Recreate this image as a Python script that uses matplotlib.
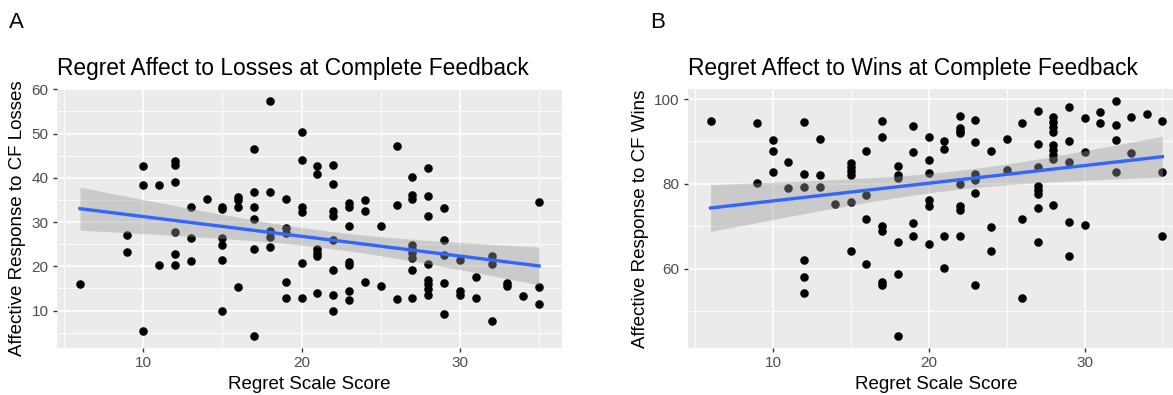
import matplotlib
matplotlib.use("Agg")
from matplotlib import pyplot as plt
import numpy as np

plt.rcParams['font.family'] = ['Liberation Sans', 'DejaVu Sans']

# panel A: regret score -> affective response to CF losses
loss_x = ([6] + [9]*2 + [10]*3 + [11]*2 + [12]*6 + [13]*3 + [14] + [15]*6 + [16]*4
          + [17]*6 + [18]*5 + [19]*5 + [20]*6 + [21]*6 + [22]*8 + [23]*7 + [24]*3
          + [25]*2 + [26]*3 + [27]*9 + [28]*8 + [29]*5 + [30]*3 + [31]*2 + [32]*3
          + [33]*2 + [34] + [35]*3)
loss_y = [15.9,
          27.1, 23.2,
          42.6, 38.4, 5.3,
          38.4, 20.2,
          43.7, 43.0, 39.0, 27.8, 22.8, 20.2,
          33.3, 26.4, 21.1,
          35.1,
          33.5, 33.0, 26.3, 24.7, 21.5, 9.9,
          35.7, 34.9, 33.5, 15.3,
          46.5, 36.9, 33.3, 30.8, 23.8, 4.2,
          57.4, 36.9, 27.9, 26.6, 24.4,
          35.2, 28.7, 27.5, 16.4, 12.9,
          50.3, 44.1, 33.4, 32.3, 20.8, 12.9,
          42.7, 40.9, 23.8, 23.0, 22.3, 14.0,
          43.0, 38.6, 32.4, 31.3, 25.9, 19.1, 13.5, 9.8,
          34.2, 33.4, 29.2, 21.0, 20.2, 14.5, 12.3,
          34.9, 32.6, 16.5,
          29.0, 15.6,
          47.2, 33.8, 12.5,
          40.2, 36.2, 35.2, 24.7, 23.8, 22.9, 21.9, 19.1, 12.9,
          42.2, 35.8, 31.3, 20.6, 16.8, 15.9, 14.9, 13.6,
          33.2, 25.9, 22.5, 16.3, 9.3,
          21.5, 14.5, 13.5,
          17.5, 12.9,
          22.3, 20.5, 7.7,
          16.3, 15.5,
          13.2,
          34.6, 15.3, 11.5]

# panel B: regret score -> affective response to CF wins
win_x = ([6] + [9]*2 + [10]*3 + [11]*2 + [12]*6 + [13]*3 + [14] + [15]*6 + [16]*4
         + [17]*6 + [18]*6 + [19]*4 + [20]*6 + [21]*4 + [22]*8 + [23]*6 + [24]*3
         + [25]*2 + [26]*3 + [27]*8 + [28]*9 + [29]*5 + [30]*3 + [31]*2 + [32]*4
         + [33]*2 + [34] + [35]*3)
win_y = [94.9,
         94.4, 80.3,
         90.4, 87.8, 82.7,
         85.2, 79.1,
         94.7, 82.4, 79.2, 62.0, 58.0, 54.4,
         90.7, 82.0, 79.2,
         75.2,
         85.0, 84.1, 83.1, 82.0, 75.7, 64.3,
         87.8, 77.3, 71.7, 61.2,
         94.9, 91.1, 70.0, 69.0, 56.8, 56.1,
         84.2, 82.1, 81.5, 66.4, 58.8, 44.1,
         93.7, 87.6, 70.9, 67.7,
         91.1, 85.6, 82.5, 76.2, 74.8, 65.8,
         90.1, 88.2, 67.7, 60.2,
         96.1, 93.1, 92.5, 91.9, 79.9, 74.7, 73.9, 67.7,
         95.1, 89.8, 82.4, 80.9, 77.8, 56.2,
         87.8, 69.8, 64.3,
         90.5, 83.3,
         94.4, 71.8, 53.1,
         97.2, 89.4, 83.9, 79.5, 78.6, 77.6, 74.3, 66.3,
         95.8, 94.7, 93.5, 92.3, 89.2, 88.0, 86.8, 85.8, 75.1,
         98.2, 90.0, 85.2, 71.0, 63.1,
         95.5, 87.6, 70.2,
         97.0, 94.4,
         99.6, 94.0, 90.4, 82.7,
         95.7, 87.4,
         96.5,
         94.9, 82.8, 67.8]

x_ticks = [10, 20, 30]
loss_ticks = [10, 20, 30, 40, 50, 60]
win_ticks = [60, 80, 100]


def gg_panel(ax, x, y, title, ylabel, yticks):
    x = np.array(x, dtype=float)
    y = np.array(y, dtype=float)
    ax.set_facecolor("#EBEBEB")
    for s in ax.spines.values():
        s.set_visible(False)
    ax.scatter(x, y, s=38, color="black", zorder=2, linewidths=0)

    # lm fit with 95% confidence band, like geom_smooth(method="lm")
    n = len(x)
    b, a = np.polyfit(x, y, 1)
    xs = np.linspace(x.min(), x.max(), 80)
    fit = a + b * xs
    resid = y - (a + b * x)
    s_err = np.sqrt(np.sum(resid**2) / (n - 2))
    sxx = np.sum((x - x.mean())**2)
    se = s_err * np.sqrt(1.0 / n + (xs - x.mean())**2 / sxx)
    ax.fill_between(xs, fit - 1.98 * se, fit + 1.98 * se, color="#999999",
                    alpha=0.4, linewidth=0, zorder=3)
    ax.plot(xs, fit, color="#3366FF", lw=2.4, zorder=4)

    ax.set_xticks(x_ticks)
    ax.set_yticks(yticks)
    step_x = x_ticks[1] - x_ticks[0]
    step_y = yticks[1] - yticks[0]
    ax.set_xticks(np.arange(x_ticks[0] - step_x / 2, x_ticks[-1] + step_x, step_x), minor=True)
    ax.set_yticks(np.arange(yticks[0] - step_y / 2, yticks[-1] + step_y, step_y), minor=True)
    xr = x.max() - x.min()
    yr = y.max() - y.min()
    ax.set_xlim(x.min() - 0.05 * xr, x.max() + 0.05 * xr)
    ax.set_ylim(y.min() - 0.05 * yr, y.max() + 0.05 * yr)
    ax.grid(which="major", color="white", lw=1.2, zorder=0)
    ax.grid(which="minor", color="white", lw=0.6, zorder=0)
    ax.set_axisbelow(True)
    ax.tick_params(which="major", length=3, width=1, color="#333333",
                   labelcolor="#4D4D4D", labelsize=11, pad=3)
    ax.tick_params(which="minor", length=0)
    ax.set_title(title, fontsize=16.4, pad=10, loc="left")
    ax.set_xlabel("Regret Scale Score", fontsize=13.5, labelpad=4)
    ax.set_ylabel(ylabel, fontsize=13.5, labelpad=4)


fig = plt.figure(figsize=(11.73, 3.95), dpi=100)
ax1 = fig.add_axes([57 / 1173, 1 - 348 / 395, 505 / 1173, 259 / 395])
ax2 = fig.add_axes([688 / 1173, 1 - 348 / 395, 497 / 1173, 259 / 395])

gg_panel(ax1, loss_x, loss_y, "Regret Affect to Losses at Complete Feedback",
         "Affective Response to CF Losses", loss_ticks)
gg_panel(ax2, win_x, win_y, "Regret Affect to Wins at Complete Feedback",
         "Affective Response to CF Wins", win_ticks)

fig.text(9 / 1173, 1 - 22 / 395, "A", fontsize=16, va="center")
fig.text(650 / 1173, 1 - 22 / 395, "B", fontsize=16, va="center")

fig.savefig("out.png", dpi=100)
